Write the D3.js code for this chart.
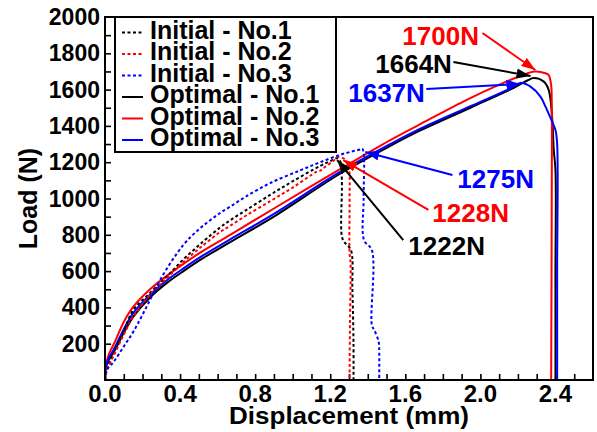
<!DOCTYPE html>
<html>
<head>
<meta charset="utf-8">
<script src="https://cdn.jsdelivr.net/npm/d3@7"></script>
<style>
  html, body { margin: 0; padding: 0; background: #fff; }
  svg text { font-family: "Liberation Sans", Arial, sans-serif; font-weight: bold; }
</style>
</head>
<body>
<div id="chart"></div>
<script>
// Load-displacement curves (displacement in mm, load in N)
var initial1X = [0, 0.01, 0.03, 0.053, 0.10, 0.151, 0.24, 0.329, 0.418, 0.52, 0.613, 0.667, 0.75, 0.88, 1.0, 1.147, 1.20, 1.236, 1.255, 1.262, 1.262, 1.275, 1.31, 1.318, 1.324, 1.324];
var initial1Y = [0, 60, 110, 165, 270, 386, 480, 569, 665, 760, 840, 880, 935, 1020, 1095, 1180, 1206, 1222, 1200, 1100, 790, 760, 716, 500, 200, 0];

var initial2X = [0, 0.01, 0.03, 0.053, 0.10, 0.151, 0.24, 0.329, 0.418, 0.52, 0.613, 0.667, 0.75, 0.88, 1.0, 1.129, 1.15, 1.17, 1.218, 1.24, 1.28, 1.30, 1.303, 1.303, 1.308, 1.305, 1.303];
var initial2Y = [0, 55, 100, 149, 250, 349, 470, 560, 650, 740, 815, 850, 905, 985, 1060, 1148, 1155, 1172, 1208, 1228, 1215, 1160, 1000, 700, 650, 300, 0];

var initial3X = [0, 0.009, 0.03, 0.053, 0.10, 0.151, 0.24, 0.293, 0.418, 0.50, 0.56, 0.613, 0.667, 0.75, 0.88, 1.04, 1.147, 1.25, 1.32, 1.36, 1.37, 1.378, 1.378, 1.38, 1.422, 1.422, 1.435, 1.458, 1.461, 1.461];
var initial3Y = [0, 55, 80, 110, 185, 266, 441, 551, 745, 830, 880, 920, 955, 1010, 1085, 1155, 1200, 1240, 1260, 1270, 1275, 1250, 1000, 771, 716, 300, 275, 211, 150, 0];

var optimal1X = [0, 0.005, 0.02, 0.053, 0.10, 0.151, 0.24, 0.33, 0.418, 0.52, 0.667, 0.9, 1.25, 1.52, 1.68, 1.947, 2.178, 2.25, 2.284, 2.338, 2.364, 2.382, 2.391, 2.40, 2.40, 2.40];
var optimal1Y = [0, 70, 110, 165, 260, 349, 455, 535, 600, 670, 760, 900, 1135, 1290, 1375, 1500, 1610, 1650, 1664, 1644, 1598, 1451, 1267, 1157, 600, 0];

var optimal2X = [0, 0.005, 0.02, 0.053, 0.10, 0.151, 0.24, 0.33, 0.418, 0.52, 0.667, 0.9, 1.25, 1.52, 1.68, 1.93, 2.107, 2.213, 2.29, 2.347, 2.364, 2.377, 2.38, 2.38, 2.377];
var optimal2Y = [0, 80, 140, 211, 320, 404, 500, 575, 640, 710, 800, 945, 1160, 1322, 1410, 1545, 1630, 1675, 1700, 1690, 1680, 1625, 1550, 900, 0];

var optimal3X = [0, 0.005, 0.02, 0.053, 0.10, 0.151, 0.24, 0.33, 0.418, 0.52, 0.667, 0.9, 1.25, 1.52, 1.68, 1.95, 2.16, 2.213, 2.267, 2.32, 2.347, 2.382, 2.40, 2.409, 2.409, 2.409];
var optimal3Y = [0, 75, 120, 180, 280, 370, 470, 550, 615, 685, 775, 915, 1145, 1300, 1385, 1510, 1607, 1637, 1616, 1561, 1506, 1423, 1377, 1300, 600, 0];

var seriesNames = ["Initial - No.1", "Initial - No.2", "Initial - No.3", "Optimal - No.1", "Optimal - No.2", "Optimal - No.3"];
var seriesColors = ["#000000", "#ff0000", "#0000ff", "#000000", "#ff0000", "#0000ff"];
var seriesDashed = [true, true, true, false, false, false];

// peak annotations: label, label anchor (mm, N), arrow start (mm, N), arrow tip (mm, N)
var peakLabels = ["1700N", "1664N", "1637N", "1275N", "1228N", "1222N"];
var peakColors = ["#ff0000", "#000000", "#0000ff", "#0000ff", "#ff0000", "#000000"];
var labelX = [1.584, 1.44, 1.296, 1.877, 1.744, 1.616];
var labelY = [1846, 1694, 1532, 1058, 871, 689];
var arrowFromX = [2.011, 1.856, 1.712, 1.851, 1.723, 1.589];
var arrowFromY = [1912, 1752, 1603, 1129, 937, 771];
var arrowToX = [2.293, 2.267, 2.213, 1.387, 1.269, 1.237];
var arrowToY = [1708, 1675, 1631, 1256, 1212, 1212];

var xTicks = [0.0, 0.4, 0.8, 1.2, 1.6, 2.0, 2.4];
var yTicks = [200, 400, 600, 800, 1000, 1200, 1400, 1600, 1800, 2000];

var W = 597, H = 432;
var margin = { left: 105, top: 17, right: 4, bottom: 52 };
var iw = W - margin.left - margin.right;
var ih = H - margin.top - margin.bottom;

var svg = d3.select("#chart").append("svg")
    .attr("width", W).attr("height", H);

var defs = svg.append("defs");
["#000000", "#ff0000", "#0000ff"].forEach(function (c) {
    defs.append("marker")
        .attr("id", "arr" + c.slice(1))
        .attr("markerUnits", "userSpaceOnUse")
        .attr("viewBox", "0 0 14 10")
        .attr("refX", 14).attr("refY", 5)
        .attr("markerWidth", 14).attr("markerHeight", 10)
        .attr("orient", "auto")
        .append("path").attr("d", "M0,0 L14,5 L0,10 Z").attr("fill", c);
});

var g = svg.append("g").attr("transform", "translate(" + margin.left + "," + margin.top + ")");

var x = d3.scaleLinear().domain([0, 2.6]).range([0, iw]);
var y = d3.scaleLinear().domain([0, 2000]).range([ih, 0]);

// ticks (inward)
var xAxis = d3.axisBottom(x).tickValues(d3.range(0, 26).map(function (i) { return i / 10; }))
    .tickSize(-6).tickFormat("");
var yAxis = d3.axisLeft(y).tickValues(d3.range(1, 20).map(function (i) { return i * 100; }))
    .tickSize(-6).tickFormat("");
g.append("g").attr("transform", "translate(0," + ih + ")").call(xAxis)
    .call(function (s) { s.select(".domain").remove(); s.selectAll("line").attr("stroke-width", 1.6); });
g.append("g").call(yAxis)
    .call(function (s) { s.select(".domain").remove(); s.selectAll("line").attr("stroke-width", 1.6); });

// tick labels
g.selectAll(".xl").data(xTicks).enter().append("text")
    .attr("x", function (d) { return x(d); }).attr("y", ih + 22)
    .attr("text-anchor", "middle").attr("font-size", 24)
    .text(function (d) { return d3.format(".1f")(d); });
g.selectAll(".yl").data(yTicks).enter().append("text")
    .attr("x", -5).attr("y", function (d) { return y(d) + 8; })
    .attr("text-anchor", "end").attr("font-size", 23)
    .text(function (d) { return d; });

// curves
var allX = [initial1X, initial2X, initial3X, optimal1X, optimal2X, optimal3X];
var allY = [initial1Y, initial2Y, initial3Y, optimal1Y, optimal2Y, optimal3Y];
var line = d3.line().x(function (d) { return x(d[0]); }).y(function (d) { return y(d[1]); })
    .curve(d3.curveCatmullRom.alpha(0.5));

var order = [3, 4, 5, 0, 1, 2];
order.forEach(function (i) {
    var pts = allX[i].map(function (v, k) { return [v, allY[i][k]]; });
    g.append("path")
        .attr("d", line(pts))
        .attr("fill", "none")
        .attr("stroke", seriesColors[i])
        .attr("stroke-width", 2)
        .attr("stroke-linejoin", "round")
        .attr("stroke-dasharray", seriesDashed[i] ? "3,2.5" : null);
});

// annotations
peakLabels.forEach(function (lab, i) {
    g.append("line")
        .attr("x1", x(arrowFromX[i])).attr("y1", y(arrowFromY[i]))
        .attr("x2", x(arrowToX[i])).attr("y2", y(arrowToY[i]))
        .attr("stroke", peakColors[i]).attr("stroke-width", 2)
        .attr("marker-end", "url(#arr" + peakColors[i].slice(1) + ")");
    g.append("text")
        .attr("x", x(labelX[i])).attr("y", y(labelY[i]))
        .attr("fill", peakColors[i]).attr("font-size", 26)
        .text(lab);
});

// legend
var lg = g.append("g").attr("transform", "translate(10,0)");
lg.append("rect").attr("x", 0).attr("y", 0).attr("width", 221).attr("height", 135)
    .attr("fill", "#fff").attr("stroke", "#000").attr("stroke-width", 2);
seriesNames.forEach(function (name, i) {
    var by = 21.5 + i * 21.5;
    lg.append("line").attr("x1", 7).attr("x2", 28).attr("y1", by - 6).attr("y2", by - 6)
        .attr("stroke", seriesColors[i]).attr("stroke-width", 2)
        .attr("stroke-dasharray", seriesDashed[i] ? "3,2.5" : null);
    lg.append("text").attr("x", 35).attr("y", by).attr("font-size", 25).text(name);
});

// frame
g.append("rect").attr("x", 0).attr("y", 0).attr("width", iw).attr("height", ih)
    .attr("fill", "none").attr("stroke", "#000").attr("stroke-width", 2);

// axis titles
svg.append("text").attr("x", margin.left + iw / 2).attr("y", 424)
    .attr("text-anchor", "middle").attr("font-size", 23)
    .attr("textLength", 240).attr("lengthAdjust", "spacingAndGlyphs")
    .text("Displacement (mm)");
svg.append("text").attr("transform", "translate(37," + (margin.top + ih / 2) + ") rotate(-90)")
    .attr("text-anchor", "middle").attr("font-size", 25).text("Load (N)");
</script>
</body>
</html>
